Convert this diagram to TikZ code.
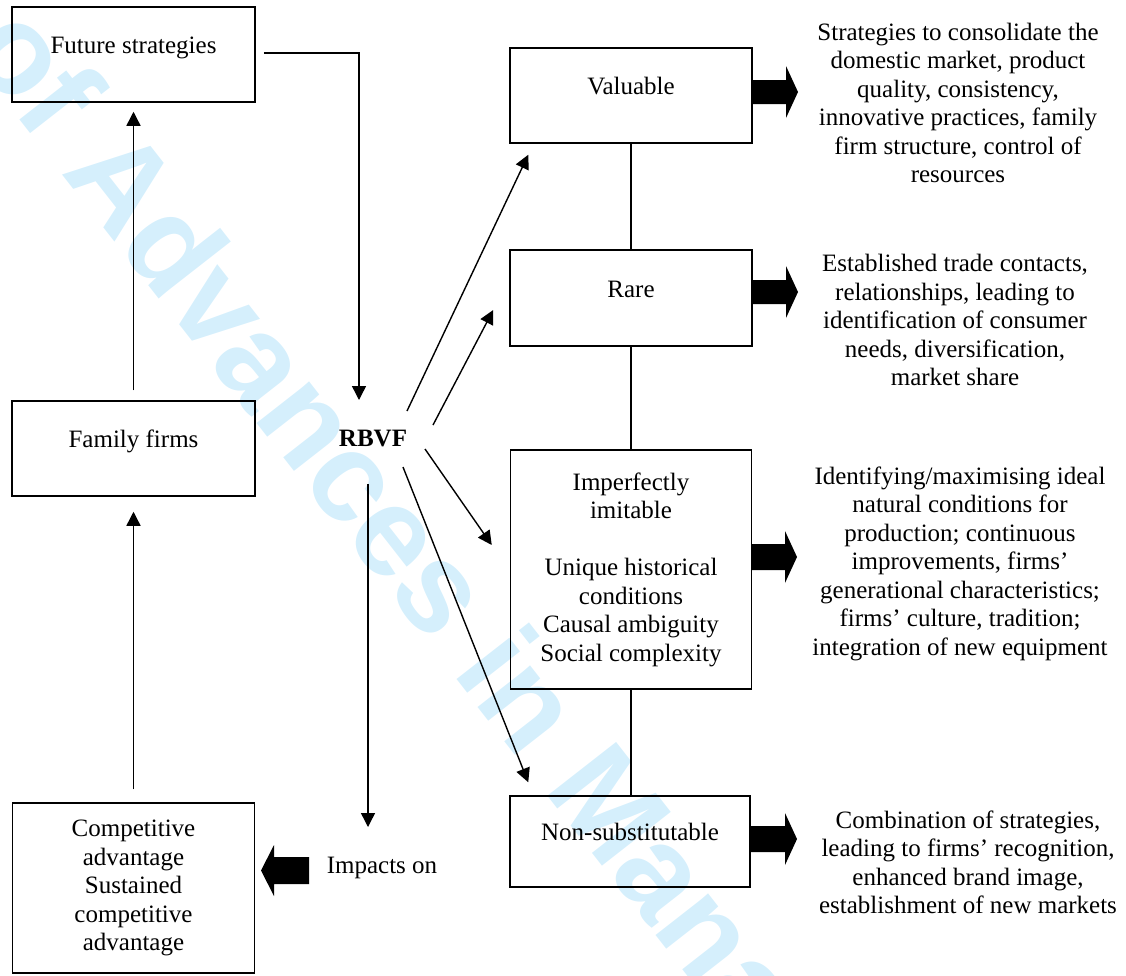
\documentclass[tikz,border=0pt]{standalone}
\usepackage{fontspec}
\setmainfont{Liberation Serif}
\newfontfamily\wmfont{Liberation Sans}
\usetikzlibrary{arrows.meta,calc}
\definecolor{wmblue}{RGB}{213,239,252}
\begin{document}
\begin{tikzpicture}[x=1pt,y=-1pt,
  every node/.style={font=\fontsize{25}{28.5}\selectfont},
  box/.style={draw,line width=1.5pt,inner sep=0pt,align=center},
  sbox/.style={box,text height=17pt,text depth=19pt},
  conn/.style={line width=1.4pt,-{Triangle[length=14pt,width=14pt]}},
  link/.style={line width=1.4pt},
  blk/.style={fill=black},
  desc/.style={align=center,inner sep=0pt},
  wmtext/.style={text=wmblue,inner sep=0pt,font=\wmfont\bfseries\fontsize{127}{127}\selectfont,rotate=-52}]
\useasboundingbox (0,0) rectangle (1126,975);
% watermark
\begin{scope}
\clip (0,0) rectangle (1126,975);
\node[wmtext,anchor=base west] (wmA) at (60,172) {Advances in Management Research};
\node[wmtext,anchor=base east] (wmB) at (38.3,144.2) {Journal of};
\end{scope}
% left column
\node[sbox,minimum width=243pt,minimum height=95pt] (fut) at (133.5,54.5) {Future strategies};
\node[sbox,minimum width=243pt,minimum height=95pt] (fam) at (133.5,448.5) {Family firms};
\node[box,minimum width=242pt,minimum height=170pt] (comp) at (133.5,888) {Competitive\\advantage\\Sustained\\competitive\\advantage};
% centre
\node[inner sep=0pt,font=\fontsize{25}{28.5}\selectfont\bfseries] (rbvf) at (373,438) {RBVF};
\node[inner sep=0pt] (impacts) at (382,868) {Impacts on};
% right column boxes
\node[sbox,minimum width=242pt,minimum height=95pt] (val) at (631,95.5) {Valuable};
\node[sbox,minimum width=242pt,minimum height=96pt] (rare) at (631,298) {Rare};
\node[box,minimum width=241pt,minimum height=239pt] (imp) at (631,569.5) {Imperfectly\\imitable\\[28.5pt]Unique historical\\conditions\\Causal ambiguity\\Social complexity};
\node[sbox,minimum width=240pt,minimum height=91pt] (non) at (630,841.5) {Non-substitutable};
% descriptions
\node[desc] (d1) at (958,103) {Strategies to consolidate the\\domestic market, product\\quality, consistency,\\innovative practices, family\\firm structure, control of\\resources};
\node[desc] (d2) at (955,320) {Established trade contacts,\\relationships, leading to\\identification of consumer\\needs, diversification,\\market share};
\node[desc] (d3) at (960,563.5) {Identifying/maximising ideal\\natural conditions for\\production; continuous\\improvements, firms’\\generational characteristics;\\firms’ culture, tradition;\\integration of new equipment};
\node[desc] (d4) at (968,862.5) {Combination of strategies,\\leading to firms’ recognition,\\enhanced brand image,\\establishment of new markets};
% connectors
\draw[conn] ([xshift=8pt,yshift=1.5pt]fut.east) -| ($(rbvf)+(-14,-38)$);
\draw[conn] ([yshift=10pt]fam.north) -- ([yshift=-9pt]fut.south);
\draw[conn] ([yshift=13pt]comp.north) -- ([yshift=-15pt]fam.south);
\draw[conn] ($(rbvf)+(34,-27)$) -- ($(val.south west)+(19,11)$);
\draw[conn] ($(rbvf)+(60,-13)$) -- ($(rare.west)+(-16,12)$);
\draw[conn] ($(rbvf)+(52,11)$) -- ($(imp.west)+(-18,-24.5)$);
\draw[conn] ($(rbvf)+(30,29)$) -- ($(non.north west)+(19,-13)$);
\draw[conn] ($(rbvf)+(-5,46)$) -- ($(impacts)+(-14,-41)$);
\draw[link] (val.south) -- (rare.north);
\draw[link] (rare.south) -- (rare.south |- imp.north);
\draw[link] (imp.south) -- (imp.south |- non.north);
% block arrows
\fill[blk] (752,80) -- (786,80) -- (786,66) -- (798,92) -- (786,118) -- (786,104) -- (752,104) -- cycle;
\fill[blk] (752,280) -- (786,280) -- (786,266) -- (798,292) -- (786,318) -- (786,304) -- (752,304) -- cycle;
\fill[blk] (751,544) -- (785,544) -- (785,531) -- (797,557) -- (785,583) -- (785,570) -- (751,570) -- cycle;
\fill[blk] (750,826) -- (785,826) -- (785,813) -- (797,839) -- (785,865) -- (785,852) -- (750,852) -- cycle;
\fill[blk] (309,857) -- (274,857) -- (274,845) -- (261,870.5) -- (274,896) -- (274,884) -- (309,884) -- cycle;
\end{tikzpicture}
\end{document}
